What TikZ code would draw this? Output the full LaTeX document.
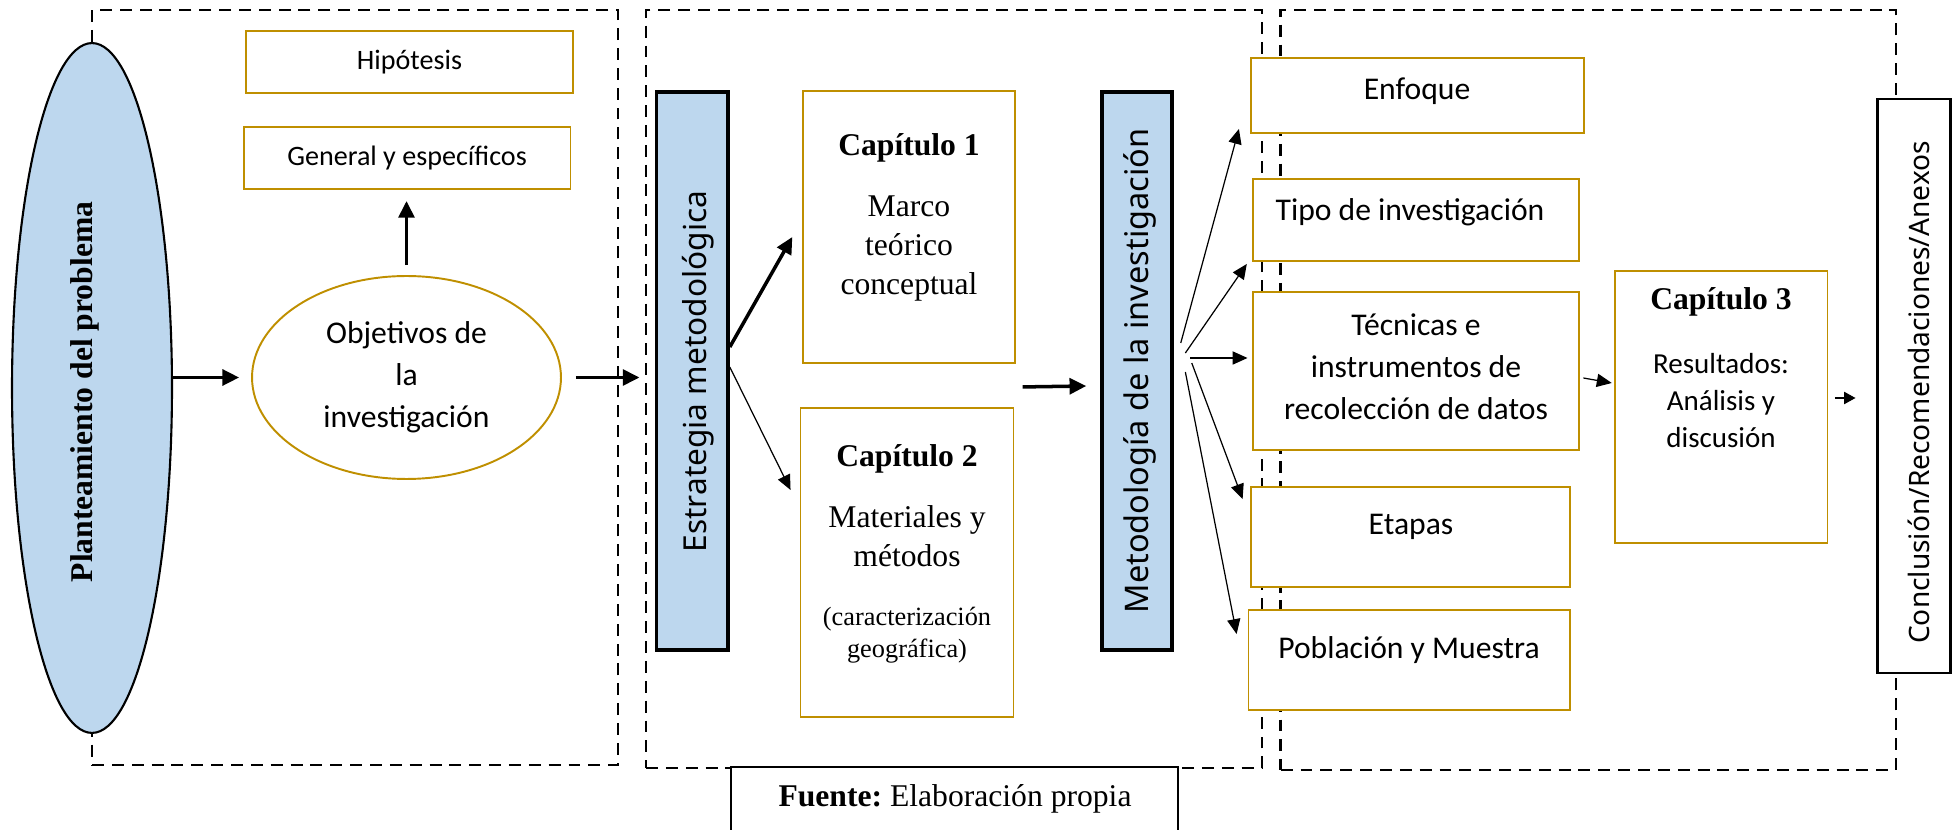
\documentclass[tikz,border=0pt]{standalone}
\usepackage{fontspec}
\usepackage{graphicx}
\setmainfont{Liberation Serif}
\newfontfamily\calibrifont{Carlito}
\newfontfamily\segoefont{Noto Sans}
\usetikzlibrary{arrows.meta,shapes.geometric,calc}
\definecolor{goldline}{RGB}{191,143,0}
\definecolor{barblue}{RGB}{189,215,238}

\begin{document}
\begin{tikzpicture}[x=0.02cm,y=-0.02cm,
  gold/.style={draw=goldline,line width=1.1pt,fill=white,inner sep=0pt},
  bluebar/.style={draw=black,line width=2pt,fill=barblue,inner sep=0pt},
  dashframe/.style={draw=black,line width=1.5pt,dash pattern=on 6.8pt off 4.5pt,inner sep=0pt},
  sanstext/.style={font=\calibrifont\fontsize{18}{24}\selectfont,align=center},
  serifhead/.style={font=\bfseries\fontsize{18}{22}\selectfont},
  uptext/.style={rotate=90,font=\segoefont\fontsize{18}{22}\selectfont},
  bigarrow/.style={-{Triangle[length=9.5pt,width=9pt]},line width=2pt},
  thinarrow/.style={-{Triangle[length=8.5pt,width=7.5pt]},line width=0.7pt}]
\useasboundingbox (0,0) rectangle (1953,830);
\node[dashframe,minimum width=10.52cm,minimum height=15.1cm] (box1) at (355,387.5) {}; % Frame.1
\node[dashframe,minimum width=12.32cm,minimum height=15.16cm] (box2) at (954,389) {}; % Frame.2
\node[dashframe,minimum width=12.31cm,minimum height=15.2cm] (box3) at (1588.35,390) {}; % Frame.3
\node[ellipse,draw=black,line width=1.2pt,fill=barblue,minimum width=3.2cm,minimum height=13.8cm,inner sep=0pt] (plan) at (92,388) {}; % Planteamiento
\node[rotate=90,serifhead] (plantxt) at (85,392) {Planteamiento del problema}; % Planteamiento
\node[gold,minimum width=6.54cm,minimum height=1.24cm,font=\calibrifont\fontsize{16}{20}\selectfont] (hip) at (409.5,62) {Hipótesis}; % Hipotesis
\node[gold,minimum width=6.54cm,minimum height=1.24cm,font=\calibrifont\fontsize{16}{20}\selectfont] (gen) at (407,158) {General y específicos}; % General
\node[ellipse,draw=goldline,line width=1.1pt,minimum width=6.18cm,minimum height=4.06cm,inner sep=0pt,sanstext] (obj) at (406.5,377.5) {Objetivos de\\la\\investigación}; % Objetivos
\node[bluebar,minimum width=1.43cm,minimum height=11.16cm] (estr) at (692.3,371) {}; % Estrategia
\node[uptext] (estrtxt) at (698,371.5) {Estrategia metodológica}; % Estrategia
\node[gold,minimum width=4.25cm,minimum height=5.44cm] (cap1) at (909,227) {}; % Cap.1
\node[serifhead] (cap1head) at (909,147.5) {Capítulo 1}; % Cap.1
\node[align=center,font=\fontsize{18}{22.2}\selectfont] (cap1body) at (909,248.5) {Marco\\teórico\\conceptual}; % Cap.1
\node[gold,minimum width=4.26cm,minimum height=6.18cm] (cap2) at (907,562.5) {}; % Cap.2
\node[serifhead] (cap2head) at (907,459) {Capítulo 2}; % Cap.2
\node[align=center,font=\fontsize{18}{22.2}\selectfont] (cap2body) at (907,536.5) {Materiales y\\métodos}; % Cap.2
\node[align=center,font=\fontsize{15}{18.2}\selectfont] (cap2note) at (907,635) {(caracterización\\geográfica)}; % Cap.2
\node[bluebar,minimum width=1.4cm,minimum height=11.16cm] (met) at (1137,371) {}; % Metodologia
\node[uptext,font=\segoefont\fontsize{18.5}{22}\selectfont] (mettxt) at (1140,371) {Metodología de la investigación}; % Metodologia
\node[gold,minimum width=6.67cm,minimum height=1.5cm] (enf) at (1417.3,95.5) {}; % Enfoque
\node[sanstext] (enftxt) at (1417,91) {Enfoque}; % Enfoque
\node[gold,minimum width=6.53cm,minimum height=1.64cm] (tipo) at (1416,220) {}; % Tipo
\node[sanstext] (tipotxt) at (1410,212) {Tipo de investigación}; % Tipo
\node[gold,minimum width=6.53cm,minimum height=3.16cm] (tec) at (1416,371) {}; % Tecnicas
\node[sanstext] (tectxt) at (1416,367) {Técnicas e\\instrumentos de\\recolección de datos}; % Tecnicas
\node[gold,minimum width=6.39cm,minimum height=2cm] (eta) at (1410.3,537) {}; % Etapas
\node[sanstext] (etatxt) at (1411,527) {Etapas}; % Etapas
\node[gold,minimum width=6.43cm,minimum height=2cm] (pob) at (1409.2,660) {}; % Poblacion
\node[sanstext] (pobtxt) at (1409,650) {Población y Muestra}; % Poblacion
\node[gold,minimum width=4.25cm,minimum height=5.44cm] (cap3) at (1721.25,407) {}; % Cap.3
\node[serifhead] (cap3head) at (1721,302) {Capítulo 3}; % Cap.3
\node[align=center,font=\calibrifont\fontsize{16.5}{21.3}\selectfont] (cap3body) at (1721,400.5) {Resultados:\\Análisis y\\discusión}; % Cap.3
\node[draw=black,line width=1.6pt,fill=white,minimum width=1.46cm,minimum height=11.48cm,inner sep=0pt] (conc) at (1914.2,386) {}; % Conclusion
\node[uptext,font=\segoefont\fontsize{16}{20}\selectfont] (conctxt) at (1919,392.5) {Conclusión/Recomendaciones/Anexos}; % Conclusion
\node[draw=black,line width=1.1pt,fill=white,minimum width=8.94cm,minimum height=1.3cm,inner sep=0pt] (fuente) at (954.5,799.5) {}; % Fuente
\node[font=\fontsize{18}{22}\selectfont] (fuentetxt) at (955,799) {\textbf{Fuente:}\ Elaboración propia}; % Fuente
\draw[bigarrow,shorten >=6.8pt] (plan.east |- obj.west) -- (obj.west); % plan-obj
\draw[bigarrow,shorten <=8pt,shorten >=3pt] (obj.east) -- (box2.west |- obj.east); % obj-box2
\draw[bigarrow,shorten <=5.7pt,shorten >=6.3pt] (obj.north) -- (obj.north |- gen.south); % obj-gen
\draw[bigarrow] ($(estr.east)+(0,-24)$) -- ($(cap1.west)+(-9.5,10)$); % estr-cap1
\draw[thinarrow] ($(estr.east)+(0,-4)$) -- ($(cap2.west)+(-9,-72.5)$); % estr-cap2
\draw[bigarrow] ($(cap1.south east)+(6.5,23)$) -- ($(met.west)+(-14,15)$); % cap-met
\draw[thinarrow] ($(met.east)+(7,-28)$) -- ($(enf.south west)+(-10.7,-5)$); % met-enf
\draw[thinarrow] ($(met.east)+(11.6,-18)$) -- ($(tipo.south west)+(-5,2)$); % met-tipo
\draw[thinarrow] ($(met.east)+(16.5,-13)$) -- ($(tec.west)+(-4.3,-13)$); % met-tec
\draw[thinarrow] ($(met.east)+(18,-8)$) -- ($(eta.north west)+(-7,13)$); % met-eta
\draw[thinarrow] ($(met.east)+(11.6,1)$) -- ($(pob.north west)+(-10.9,25)$); % met-pob
\draw[thinarrow] ($(tec.east)+(3.2,7)$) -- ($(cap3.west)+(-2.3,-24)$); % tec-cap3
\draw[thinarrow,-{Triangle[length=6.5pt,width=7pt]}] ($(cap3.east)+(6.5,-9)$) -- ($(conc.west)+(-20.8,12)$); % cap3-conc

\end{tikzpicture}
\end{document}
